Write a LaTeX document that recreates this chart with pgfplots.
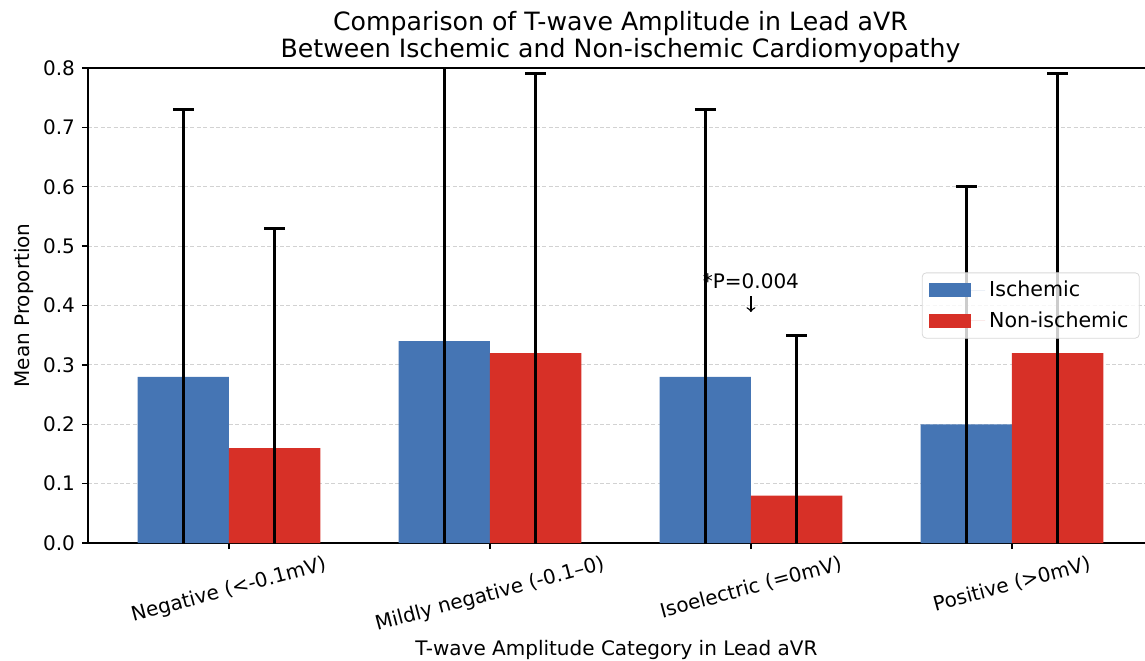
\documentclass[border=0pt]{standalone}
\usepackage{graphicx}
\usepackage{pgfplots}
\pgfplotsset{compat=1.18}
\usepackage{fontspec}
\setmainfont{DejaVu Sans}
\definecolor{isc}{HTML}{4575B4}
\definecolor{non}{HTML}{D73027}
\begin{document}
\begin{tikzpicture}
\begin{axis}[name=ax,
  scale only axis, width=528.5pt, height=237.5pt,
  xmin=-0.54, xmax=3.51, ymin=0, ymax=0.8,
  axis lines=left, axis line style={-, line width=0.7pt, black},
  tick align=outside, major tick length=3pt,
  tick style={line width=0.7pt, black},
  xtick={0,1,2,3},
  xticklabels={\rotatebox{15}{Negative (<-0.1mV)}, \rotatebox{15}{Mildly negative (-0.1–0)}, \rotatebox{15}{Isoelectric (=0mV)}, \rotatebox{15}{Positive (>0mV)}},
  xticklabel style={anchor=north, font=\fontsize{10}{12}\selectfont, inner sep=0pt, yshift=-2.8pt},
  ytick={0,0.1,0.2,0.3,0.4,0.5,0.6,0.7,0.8},
  yticklabel style={font=\fontsize{10}{12}\selectfont,
    /pgf/number format/.cd, fixed, fixed zerofill, precision=1, assume math mode=true},
  ymajorgrids, major grid style={gray!35, line width=0.5pt, dash pattern=on 2pt off 1.2pt},
  xlabel={T-wave Amplitude Category in Lead aVR},
  ylabel={Mean Proportion},
  label style={font=\fontsize{10}{12}\selectfont},
  xlabel style={yshift=1pt},
  ylabel style={yshift=-2pt},
  title={Comparison of T-wave Amplitude in Lead aVR\\Between Ischemic and Non-ischemic Cardiomyopathy},
  title style={font=\fontsize{12.6}{13.6}\selectfont, align=center, yshift=-7pt, xshift=2pt},
  ybar, bar width=0.35, bar shift=0pt,
  legend style={at={(0.995,0.5)}, anchor=east, draw=gray!30, rounded corners=2pt,
    fill=white, fill opacity=0.8, text opacity=1, font=\fontsize{10.3}{12}\selectfont,
    inner xsep=3.5pt, inner ysep=2pt, row sep=2pt},
  legend cell align=left,
  legend image code/.code={\fill[#1, fill opacity=1, sharp corners] (0pt,-3.4pt) rectangle (21pt,3.4pt);
     \path (0pt,0pt) -- (28pt,0pt);},
  error bars/y dir=both, error bars/y explicit,
  error bars/error bar style={line width=1.5pt, black},
  error bars/error mark options={line width=1.5pt, black, mark size=5.2pt, rotate=90},
]
\addplot[fill=isc, draw=none] coordinates {
  (-0.175,0.28) +- (0,0.45)
  (0.825,0.34) +- (0,0.47)
  (1.825,0.28) +- (0,0.45)
  (2.825,0.20) +- (0,0.40)
};
\addlegendentry{Ischemic}
\addplot[fill=non, draw=none] coordinates {
  (0.175,0.16) +- (0,0.37)
  (1.175,0.32) +- (0,0.47)
  (2.175,0.08) +- (0,0.27)
  (3.175,0.32) +- (0,0.47)
};
\addlegendentry{Non-ischemic}
\node[font=\fontsize{10}{12}\selectfont] at (axis cs:2,0.441) {*P=0.004};
\draw[->, line width=0.7pt] (axis cs:2,0.416) -- (axis cs:2,0.389);
\draw[line width=0.7pt] (rel axis cs:0,1) -- (rel axis cs:1,1);
\end{axis}
\pgfresetboundingbox
\path[use as bounding box] ([xshift=-44pt, yshift=-58.5pt]ax.south west) rectangle ([yshift=34pt]ax.north east);
\end{tikzpicture}
\end{document}
